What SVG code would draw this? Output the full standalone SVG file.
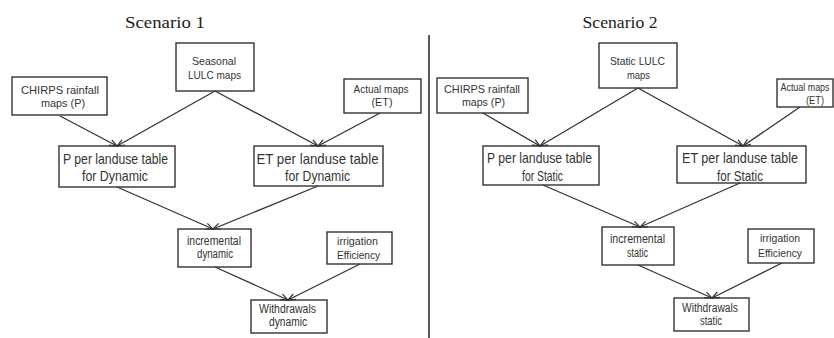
<svg xmlns="http://www.w3.org/2000/svg" width="834" height="338" viewBox="0 0 834 338">
<defs>
<style>
.box{fill:#fff;stroke:#333;stroke-width:1.4}
.t{font-family:"Liberation Sans",Arial,sans-serif;fill:#333;text-anchor:middle}
.s10{font-size:10px}.s11{font-size:11px}.s12{font-size:12px}.s15{font-size:15px}
.title{font-family:"Liberation Serif","Times New Roman",serif;font-size:17px;fill:#222;text-anchor:middle}
.c{stroke:#333;stroke-width:1.3;fill:none}
.h{stroke:#333;stroke-width:1.2;fill:none}
</style>
</defs>
<rect width="834" height="338" fill="#fff"/>
<text class="title" x="165" y="28" textLength="80" lengthAdjust="spacingAndGlyphs">Scenario 1</text>
<text class="title" x="620" y="28" textLength="75" lengthAdjust="spacingAndGlyphs">Scenario 2</text>
<line x1="429" y1="35" x2="429" y2="338" stroke="#222" stroke-width="1.5"/>
<g id="s1-lulc"><rect class="box" x="176" y="43" width="78" height="48"/>
<text class="t s11" x="214" y="65" textLength="44" lengthAdjust="spacingAndGlyphs">Seasonal</text>
<text class="t s11" x="214.5" y="79" textLength="53" lengthAdjust="spacingAndGlyphs">LULC maps</text></g>
<g id="s1-chirps"><rect class="box" x="12" y="77" width="95" height="38"/>
<text class="t s11" x="60" y="94" textLength="78" lengthAdjust="spacingAndGlyphs">CHIRPS rainfall</text>
<text class="t s11" x="63" y="107" textLength="44" lengthAdjust="spacingAndGlyphs">maps (P)</text></g>
<g id="s1-actual"><rect class="box" x="344" y="79" width="77" height="34"/>
<text class="t s11" x="381" y="93" textLength="55" lengthAdjust="spacingAndGlyphs">Actual maps</text>
<text class="t s11" x="382" y="106" textLength="21" lengthAdjust="spacingAndGlyphs">(ET)</text></g>
<g id="s1-p"><rect class="box" x="59" y="146" width="116" height="41"/>
<text class="t s15" x="115.5" y="164" textLength="105" lengthAdjust="spacingAndGlyphs">P per landuse table</text>
<text class="t s15" x="115" y="181" textLength="66" lengthAdjust="spacingAndGlyphs">for Dynamic</text></g>
<g id="s1-et"><rect class="box" x="254" y="146" width="129" height="40"/>
<text class="t s15" x="317.5" y="164" textLength="122" lengthAdjust="spacingAndGlyphs">ET per landuse table</text>
<text class="t s15" x="317.5" y="181" textLength="65" lengthAdjust="spacingAndGlyphs">for Dynamic</text></g>
<g id="s1-inc"><rect class="box" x="178" y="229" width="73" height="38"/>
<text class="t s12" x="214" y="245" textLength="54" lengthAdjust="spacingAndGlyphs">incremental</text>
<text class="t s12" x="215" y="258" textLength="36" lengthAdjust="spacingAndGlyphs">dynamic</text></g>
<g id="s1-irr"><rect class="box" x="327" y="232" width="65" height="32"/>
<text class="t s11" x="357.5" y="245" textLength="41" lengthAdjust="spacingAndGlyphs">irrigation</text>
<text class="t s11" x="358.5" y="259" textLength="43" lengthAdjust="spacingAndGlyphs">Efficiency</text></g>
<g id="s1-wd"><rect class="box" x="251" y="300" width="76" height="33"/>
<text class="t s12" x="287.5" y="313" textLength="57" lengthAdjust="spacingAndGlyphs">Withdrawals</text>
<text class="t s12" x="288" y="326" textLength="38" lengthAdjust="spacingAndGlyphs">dynamic</text></g>
<g id="s2-lulc"><rect class="box" x="599" y="43" width="78" height="45"/>
<text class="t s11" x="637.5" y="65" textLength="55" lengthAdjust="spacingAndGlyphs">Static LULC</text>
<text class="t s11" x="638.5" y="79" textLength="23" lengthAdjust="spacingAndGlyphs">maps</text></g>
<g id="s2-chirps"><rect class="box" x="437" y="78" width="91" height="35"/>
<text class="t s11" x="482" y="93" textLength="76" lengthAdjust="spacingAndGlyphs">CHIRPS rainfall</text>
<text class="t s11" x="483.5" y="106" textLength="43" lengthAdjust="spacingAndGlyphs">maps (P)</text></g>
<g id="s2-actual"><rect class="box" x="777" y="79" width="56" height="28"/>
<text class="t s10" x="805" y="91" textLength="49" lengthAdjust="spacingAndGlyphs">Actual maps</text>
<text class="t s10" x="815" y="104" textLength="18" lengthAdjust="spacingAndGlyphs">(ET)</text></g>
<g id="s2-p"><rect class="box" x="483" y="146" width="116" height="39"/>
<text class="t s15" x="539.5" y="163" textLength="105" lengthAdjust="spacingAndGlyphs">P per landuse table</text>
<text class="t s15" x="542.5" y="181" textLength="41" lengthAdjust="spacingAndGlyphs">for Static</text></g>
<g id="s2-et"><rect class="box" x="677" y="146" width="129" height="37"/>
<text class="t s15" x="740" y="163" textLength="116" lengthAdjust="spacingAndGlyphs">ET per landuse table</text>
<text class="t s15" x="740" y="181" textLength="46" lengthAdjust="spacingAndGlyphs">for Static</text></g>
<g id="s2-inc"><rect class="box" x="602" y="227" width="72" height="38"/>
<text class="t s12" x="637.5" y="243" textLength="55" lengthAdjust="spacingAndGlyphs">incremental</text>
<text class="t s12" x="637.5" y="257" textLength="21" lengthAdjust="spacingAndGlyphs">static</text></g>
<g id="s2-irr"><rect class="box" x="748" y="229" width="66" height="34"/>
<text class="t s11" x="780" y="242" textLength="40" lengthAdjust="spacingAndGlyphs">irrigation</text>
<text class="t s11" x="780" y="257" textLength="44" lengthAdjust="spacingAndGlyphs">Efficiency</text></g>
<g id="s2-wd"><rect class="box" x="674" y="298" width="75" height="33"/>
<text class="t s12" x="710" y="312" textLength="56" lengthAdjust="spacingAndGlyphs">Withdrawals</text>
<text class="t s12" x="711" y="325" textLength="22" lengthAdjust="spacingAndGlyphs">static</text></g>
<g id="connectors">
<line class="c" x1="60" y1="116" x2="117" y2="146"/>
<polyline class="h" points="109,145.2 117,146 111.8,139.9"/>
<line class="c" x1="215" y1="91" x2="117" y2="146"/>
<polyline class="h" points="122,139.8 117,146 124.9,145"/>
<line class="c" x1="215" y1="91" x2="318" y2="146"/>
<polyline class="h" points="310,145.2 318,146 312.9,139.9"/>
<line class="c" x1="380" y1="113" x2="318" y2="146"/>
<polyline class="h" points="323.1,139.9 318,146 326,145.2"/>
<line class="c" x1="117" y1="187" x2="213" y2="229"/>
<polyline class="h" points="205,228.8 213,229 207.4,223.3"/>
<line class="c" x1="318" y1="186" x2="213" y2="229"/>
<polyline class="h" points="218.7,223.4 213,229 221,229"/>
<line class="c" x1="215" y1="267" x2="288" y2="300"/>
<polyline class="h" points="280,299.7 288,300 282.5,294.2"/>
<line class="c" x1="360" y1="264" x2="288" y2="300"/>
<polyline class="h" points="293.3,294 288,300 296,299.4"/>
<line class="c" x1="483" y1="113" x2="540" y2="146"/>
<polyline class="h" points="532.1,144.9 540,146 535.1,139.7"/>
<line class="c" x1="638" y1="88" x2="540" y2="146"/>
<polyline class="h" points="544.9,139.6 540,146 547.9,144.8"/>
<line class="c" x1="638" y1="88" x2="743" y2="146"/>
<polyline class="h" points="735.1,145.1 743,146 738,139.8"/>
<line class="c" x1="800" y1="107" x2="743" y2="146"/>
<polyline class="h" points="747.4,139.3 743,146 750.8,144.3"/>
<line class="c" x1="543" y1="185" x2="640" y2="227"/>
<polyline class="h" points="632,226.8 640,227 634.4,221.3"/>
<line class="c" x1="740" y1="183" x2="640" y2="227"/>
<polyline class="h" points="645.6,221.3 640,227 648,226.8"/>
<line class="c" x1="638" y1="265" x2="712" y2="298"/>
<polyline class="h" points="704,297.7 712,298 706.5,292.2"/>
<line class="c" x1="782" y1="263" x2="712" y2="298"/>
<polyline class="h" points="717.3,292 712,298 720,297.4"/>
</g>
</svg>
